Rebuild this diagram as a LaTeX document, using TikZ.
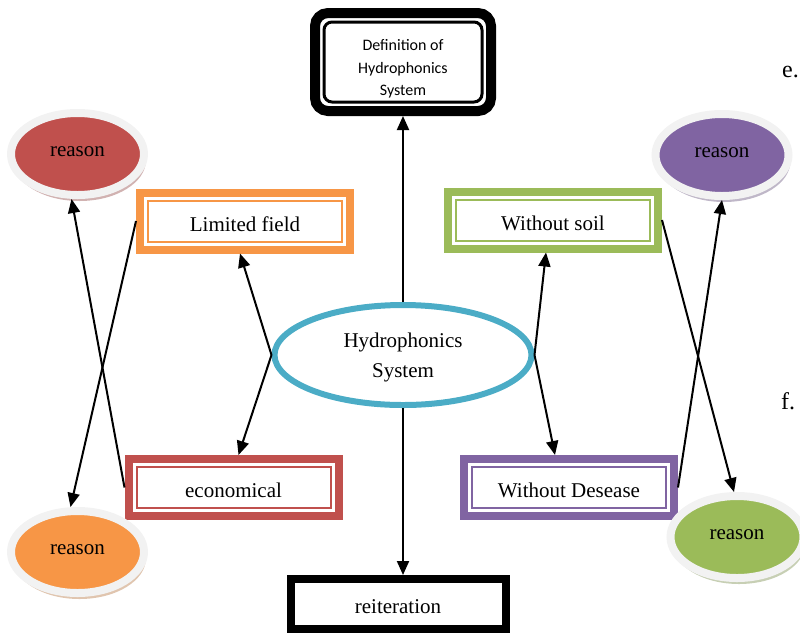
\documentclass[tikz,border=0pt]{standalone}
\usepackage{fontspec}
\setmainfont{Liberation Serif}
\newfontfamily\calibri{Carlito}
\usepackage{tikz}
\usetikzlibrary{positioning, calc, shapes.geometric, arrows.meta, shadows}

\definecolor{hsblue}{HTML}{4BACC6}
\definecolor{orng}{HTML}{F79646}
\definecolor{rred}{HTML}{C0504D}
\definecolor{grn}{HTML}{9BBB59}
\definecolor{purp}{HTML}{8064A2}
\definecolor{rim}{HTML}{F2F2F2}

\begin{document}
\begin{tikzpicture}[x=1pt, y=-1pt,
  Arr/.style={-{Triangle[length=14pt, width=12pt]}, line width=2pt},
  Box/.style={draw=#1, line width=8pt, minimum width=210pt, minimum height=57pt,
    inner sep=0pt, text height=20pt, text depth=0pt, font=\fontsize{21}{25}\selectfont},
  Reason/.style={ellipse, fill=#1, draw=rim, line width=8pt, minimum width=133pt,
    minimum height=82pt, inner sep=0pt, text height=8pt, text depth=4pt,
    font=\fontsize{21}{25}\selectfont,
    drop shadow={fill=#1!55!gray, shadow xshift=2pt, shadow yshift=-6pt}}]
  \useasboundingbox (0,0) rectangle (800,633);
  \node [ellipse, draw=hsblue, line width=6pt, minimum width=257pt, minimum height=100pt,
    inner sep=0pt, align=center, font=\fontsize{21}{30}\selectfont] (hs) at (403,355)
    {\rule{0pt}{19pt}Hydrophonics\\System};
  \node [above =186pt of hs, draw, line width=10pt, rounded corners=13pt, minimum width=176pt,
    minimum height=98pt, inner sep=0pt, align=center, font=\calibri\fontsize{16}{22.5}\selectfont]
    (def) {\rule{0pt}{25pt}Definition of\\Hydrophonics\\System};
  \node [below =167pt of hs, xshift=-5pt, draw, line width=8pt, minimum width=215pt,
    minimum height=50pt, text height=18pt, text depth=0pt,
    font=\fontsize{21}{25}\selectfont] (reit) {reiteration};
  \node [Box=orng] (lim) at (245,221) {Limited field};
  \node [Box=rred] (eco) at (233.5,487.5) {economical};
  \node [Box=grn] (soil) at (553,220) {Without soil};
  \node [Box=purp] (dis) at (569,487.5) {Without Desease};
  \node [Reason=rred] (rtl) at (77.5,154) {reason};
  \node [Reason=purp] (rtr) at (722,155) {reason};
  \node [Reason=orng] (rbl) at (77.5,552) {reason};
  \node [Reason=grn] (rbr) at (737,537) {reason};
  \node [anchor=base west, inner sep=0pt, font=\fontsize{24}{28}\selectfont] (e) at (782,77) {e.};
  \node [anchor=base west, inner sep=0pt, font=\fontsize{24}{28}\selectfont] (f) at (781,409) {f.};
  % inner lines of the boxes
  \draw [line width=3pt, rounded corners=8pt] ([shift={(14,14)}]def.north west)
    rectangle ([shift={(-14,-14)}]def.south east);
  \foreach \n/\c in {lim/orng, eco/rred, soil/grn, dis/purp}
    \draw [\c, line width=2pt] ([shift={(12,12)}]\n.north west)
      rectangle ([shift={(-12,-12)}]\n.south east);
  % connectors
  \draw[Arr] (hs) -- (def);
  \draw[Arr] (hs.south) -- (hs.south |- reit.north);
  \draw[Arr] (hs.west) -- ([xshift=-5pt]lim.south);
  \draw[Arr] (hs.west) -- ([xshift=5pt]eco.north);
  \draw[Arr] (hs.east) -- ([xshift=-7pt]soil.south);
  \draw[Arr] (hs.east) -- ([xshift=-14pt]dis.north);
  \draw[Arr] (lim.west) -- ([xshift=-7pt]rbl.north);
  \draw[Arr] (eco.west) -- ([xshift=-6pt]rtl.south);
  \draw[Arr] (soil.east) -- ([xshift=-3pt]rbr.north);
  \draw[Arr] (dis.east) -- (rtr.south);
\end{tikzpicture}
\end{document}
